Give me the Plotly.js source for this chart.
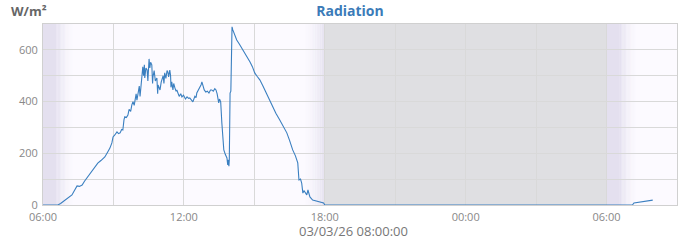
<!DOCTYPE html>
<html>
<head>
<meta charset="utf-8">
<script src="https://cdn.plot.ly/plotly-3.0.1.min.js"></script>
<style>
html,body{margin:0;padding:0;background:#fff;}
#chart{width:700px;height:240px;}
</style>
</head>
<body>
<div id="chart"></div>
<script>
// ---- data ----
const day1 = "2026-03-03";
const day2 = "2026-03-04";
const times1 = ["06:00","06:38","06:45","06:56","07:05","07:14","07:20","07:27","07:33","07:40","07:46","07:52","07:58","08:05","08:12","08:20","08:28","08:38","08:45","08:51","08:56","08:59","09:03","09:09","09:13","09:17","09:21","09:24","09:27","09:29","09:33","09:37","09:40","09:44","09:47","09:50","09:53","09:55","09:58","10:00","10:03","10:06","10:08","10:11","10:13","10:15","10:17","10:19","10:20","10:23","10:26","10:28","10:31","10:33","10:35","10:38","10:40","10:41","10:44","10:47","10:51","10:53","10:54","10:57","10:59","11:02","11:04","11:07","11:09","11:11","11:14","11:17","11:19","11:21","11:24","11:26","11:27","11:29","11:32","11:34","11:37","11:40","11:42","11:45","11:48","11:52","11:55","11:59","12:04","12:08","12:12","12:15","12:19","12:23","12:28","12:31","12:33","12:37","12:41","12:44","12:46","12:49","12:52","12:56","13:00","13:04","13:08","13:11","13:15","13:19","13:22","13:25","13:27","13:29","13:31","13:34","13:37","13:40","13:42","13:46","13:50","13:52","13:53","13:55","13:56","13:57","13:58","14:00","14:01","14:03","14:05","14:10","14:15","14:22","14:31","14:40","14:49","14:55","15:01","15:07","15:14","15:22","15:32","15:40","15:47","15:55","16:05","16:14","16:23","16:30","16:38","16:45","16:51","16:54","16:58","17:01","17:04","17:07","17:09","17:12","17:14","17:17","17:22","17:29","17:35","17:42","17:50","17:57","18:00"];
const values1 = [0,0,6,19,28,39,55,74,72,77,92,104,116,128,145,162,172,186,204,220,240,263,270,283,276,279,292,290,330,341,338,348,370,362,387,400,385,414,430,405,437,460,420,470,476,534,500,542,491,530,522,480,565,530,552,542,470,495,520,480,491,430,464,450,445,475,484,500,470,511,490,520,515,495,522,500,455,476,445,470,453,440,445,433,420,430,418,425,410,418,412,414,405,399,420,415,433,445,453,465,476,460,445,437,440,433,445,445,440,450,445,430,414,395,410,399,317,260,213,195,182,155,175,150,174,302,433,440,600,689,677,655,638,622,600,578,553,535,511,498,484,460,426,405,379,355,329,305,279,250,213,190,163,97,100,85,46,55,50,45,39,58,31,19,17,15,12,8,0];
const times2 = ["07:06","07:10","07:25","07:40","07:50","07:58"];
const values2 = [0,8,12,15,17,19];

const yTickVals = [0,200,400,600];
const xStart = day1 + " 06:00:00";
const xEnd = day2 + " 09:00:00";
const xTitle = "03/03/26 08:00:00";
const chartTitle = "Radiation";
const unitLabel = "W/m²";

// twilight / night periods
const nightStart = day1 + " 18:00:00";
const nightEnd = day2 + " 06:00:00";
const dawnBands = [[day1 + " 06:00:00", day1 + " 06:34:00", day1 + " 07:20:00"],
                   [day2 + " 06:00:00", day2 + " 06:34:00", day2 + " 07:20:00"]];
const duskBand = [day1 + " 17:00:00", day1 + " 18:00:00"];

// ---- build ----
const xs = times1.map(t => day1 + " " + t + ":00").concat(times2.map(t => day2 + " " + t + ":00"));
const ys = values1.concat(values2);

function ms(s){ return Date.parse(s.replace(" ","T") + "Z"); }
function str(m){ return new Date(m).toISOString().slice(0,19).replace("T"," "); }
const dayCol = [252,250,255];
const lavCol = [228,224,239];
function mix(f){
  const c = dayCol.map((d,i)=>Math.round(d + (lavCol[i]-d)*f));
  return "rgb(" + c.join(",") + ")";
}
const shapes = [];
function rect(x0,x1,color){
  shapes.push({type:"rect",xref:"x",yref:"paper",x0:x0,x1:x1,y0:0,y1:1,
    fillcolor:color,line:{width:0},layer:"below"});
}
rect(nightStart, nightEnd, "#dfdfe2");
const steps = 14;
dawnBands.forEach(b=>{
  rect(b[0], b[1], mix(1));
  const a = ms(b[1]), e = ms(b[2]);
  for(let i=0;i<steps;i++){
    const f = 1 - (i+0.5)/steps;
    rect(str(a+(e-a)*i/steps), str(a+(e-a)*(i+1)/steps), mix(Math.pow(f,1.6)));
  }
});
{
  const a = ms(duskBand[0]), e = ms(duskBand[1]);
  for(let i=0;i<steps;i++){
    const f = (i+0.5)/steps;
    rect(str(a+(e-a)*i/steps), str(a+(e-a)*(i+1)/steps), mix(Math.pow(f,1.8)));
  }
}

const trace = {
  x: xs, y: ys, type: "scatter", mode: "lines",
  line: {color: "#3a7fc0", width: 1.1},
  hoverinfo: "x+y"
};

const tickFont = {family: "Open Sans, sans-serif", size: 11, color: "#888"};
const layout = {
  width: 700, height: 240,
  margin: {l: 43, r: 23, t: 24, b: 35},
  paper_bgcolor: "#ffffff",
  plot_bgcolor: "rgb(252,250,255)",
  showlegend: false,
  title: {text: "<b>" + chartTitle + "</b>", x: 0.5, xanchor: "center",
          yref: "container", y: 0.955, yanchor: "middle",
          font: {family: "Open Sans, sans-serif", size: 14, color: "#3b7bb8"}},
  xaxis: {
    type: "date", range: [xStart, xEnd],
    tick0: xStart, dtick: 6*3600*1000, tickformat: "%H:%M",
    showgrid: true, gridcolor: "#d9d9d9", gridwidth: 1,
    minor: {dtick: 3*3600*1000, tick0: xStart, showgrid: true, gridcolor: "#d9d9d9", gridwidth: 1},
    showline: true, mirror: true, linecolor: "#d0d0d0", linewidth: 1,
    ticks: "", ticklen: 0, tickfont: tickFont, zeroline: false, ticklabelstandoff: 2
  },
  yaxis: {
    range: [0, 700], tickvals: yTickVals, ticktext: yTickVals.map(String),
    showgrid: true, gridcolor: "#d9d9d9", gridwidth: 1,
    minor: {dtick: 100, showgrid: true, gridcolor: "#d9d9d9", gridwidth: 1},
    showline: true, mirror: true, linecolor: "#d0d0d0", linewidth: 1,
    ticks: "", tickfont: tickFont, zeroline: false, ticklabelstandoff: 2
  },
  shapes: shapes,
  annotations: [{
    text: "<b>" + unitLabel + "</b>", xref: "paper", yref: "paper",
    x: -0.053, y: 1.0, xanchor: "left", yanchor: "bottom", yshift: 2, showarrow: false,
    font: {family: "Open Sans, sans-serif", size: 13, color: "#666"}
  }, {
    text: xTitle, xref: "paper", yref: "paper",
    x: 0.49, y: -0.145, xanchor: "center", yanchor: "middle", showarrow: false,
    font: {family: "Open Sans, sans-serif", size: 13, color: "#777"}
  }]
};
Plotly.newPlot("chart", [trace], layout, {displayModeBar: false, staticPlot: true});
</script>
</body>
</html>
